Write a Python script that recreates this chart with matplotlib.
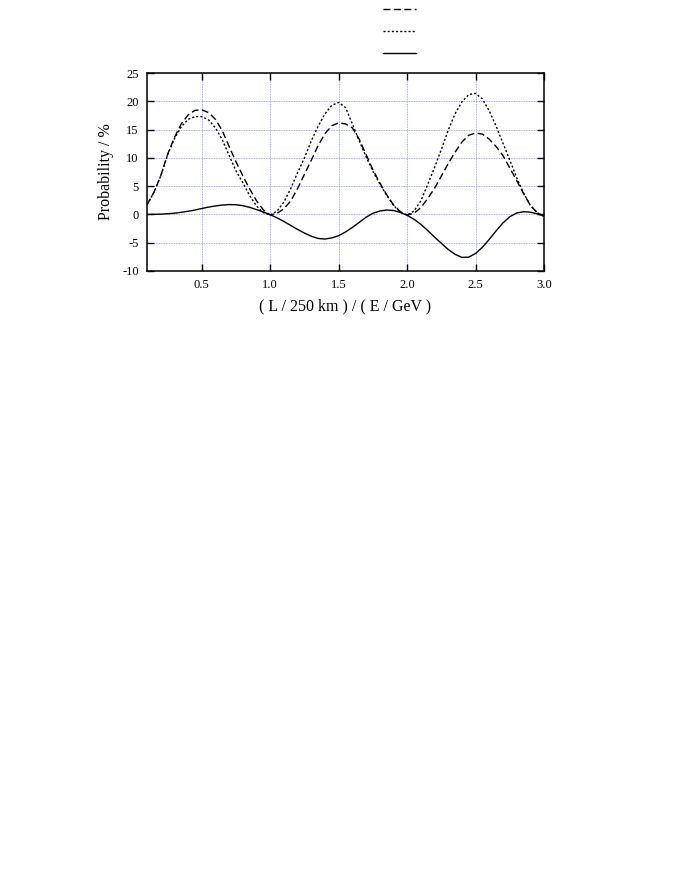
import numpy as np
import matplotlib
matplotlib.use("Agg")
import matplotlib.pyplot as plt

x = np.linspace(0.1, 3.0, 59)

# dashed curve
dashed = [1.7, 3.9, 6.8, 10.6, 13.6, 16.0, 17.6, 18.4, 18.5, 18.0,
          16.8, 14.8, 12.0, 9.3, 6.8, 4.5, 2.4, 0.8, -0.1, 0.2,
          1.0, 2.4, 4.6, 7.1, 9.6, 12.2, 14.3, 15.7, 16.2, 16.0,
          15.3, 13.3, 10.6, 7.9, 5.6, 3.5, 1.7, 0.5, -0.1, 0.2,
          1.2, 2.8, 4.6, 6.8, 9.0, 11.0, 12.8, 14.0, 14.4, 14.2,
          13.3, 12.0, 10.4, 8.2, 6.0, 3.7, 1.6, 0.3, -0.3]

# dotted curve
dotted = [1.7, 3.9, 6.8, 10.5, 13.4, 15.5, 16.8, 17.3, 17.3, 16.7,
          15.3, 13.2, 10.4, 7.7, 5.6, 3.3, 1.5, 0.3, -0.1, 0.6,
          2.2, 4.6, 7.4, 10.0, 13.0, 15.6, 17.8, 19.3, 19.8, 18.9,
          16.0, 13.0, 10.2, 7.6, 5.4, 3.4, 1.6, 0.4, -0.1, 0.6,
          2.4, 5.3, 8.3, 11.5, 14.9, 17.8, 19.9, 21.2, 21.4, 20.4,
          18.3, 15.6, 12.6, 9.6, 6.5, 3.8, 1.6, 0.3, -0.3]

# solid curve
solid = [0.0, 0.02, 0.05, 0.12, 0.22, 0.38, 0.56, 0.78, 1.05, 1.3,
         1.5, 1.66, 1.74, 1.72, 1.55, 1.25, 0.85, 0.42, -0.05, -0.6,
         -1.25, -1.95, -2.65, -3.3, -3.85, -4.25, -4.35, -4.15, -3.75, -3.1,
         -2.3, -1.4, -0.5, 0.2, 0.6, 0.78, 0.7, 0.35, -0.15, -0.85,
         -1.75, -2.85, -4.0, -5.1, -6.2, -7.05, -7.6, -7.55, -6.9, -5.8,
         -4.4, -2.9, -1.5, -0.4, 0.25, 0.48, 0.4, 0.1, -0.3]

xticks = [0.5, 1.0, 1.5, 2.0, 2.5, 3.0]
yticks = [-10, -5, 0, 5, 10, 15, 20, 25]

plt.rcParams['font.family'] = ['Liberation Serif', 'DejaVu Serif']
plt.rcParams['axes.unicode_minus'] = False

fig = plt.figure(figsize=(6.81, 8.81), dpi=100)
ax = fig.add_axes([0.2159, 0.6924, 0.5830, 0.2247])

l1, = ax.plot(x, dashed, color='black', lw=1.0, dashes=(5, 2.5))
l2, = ax.plot(x, dotted, color='black', lw=1.0, dashes=(1.5, 1.5))
l3, = ax.plot(x, solid, color='black', lw=1.0)

ax.set_xlim(0.1, 3.0)
ax.set_ylim(-10, 25)
ax.set_xticks(xticks)
ax.set_xticklabels(['%.1f' % t for t in xticks])
ax.set_yticks(yticks)
ax.grid(True, color='#8c8cff', linestyle=(0, (1, 1)), lw=0.6)
ax.tick_params(direction='in', length=5, width=1.0, top=True, right=True,
               labelsize=9, pad=6)
for s in ax.spines.values():
    s.set_linewidth(1.1)

ax.set_xlabel('( L / 250 km ) / ( E / GeV )', fontsize=11.5, labelpad=5)
ax.set_ylabel('Probability / %', fontsize=11.5, labelpad=6)

fig.legend([l1, l2, l3], [' ', ' ', ' '], loc='upper left',
           bbox_to_anchor=(0.544, 1.010), frameon=False, handlelength=2.4,
           fontsize=10, labelspacing=0.66, handletextpad=0.2)

fig.savefig('out.png', dpi=100)
